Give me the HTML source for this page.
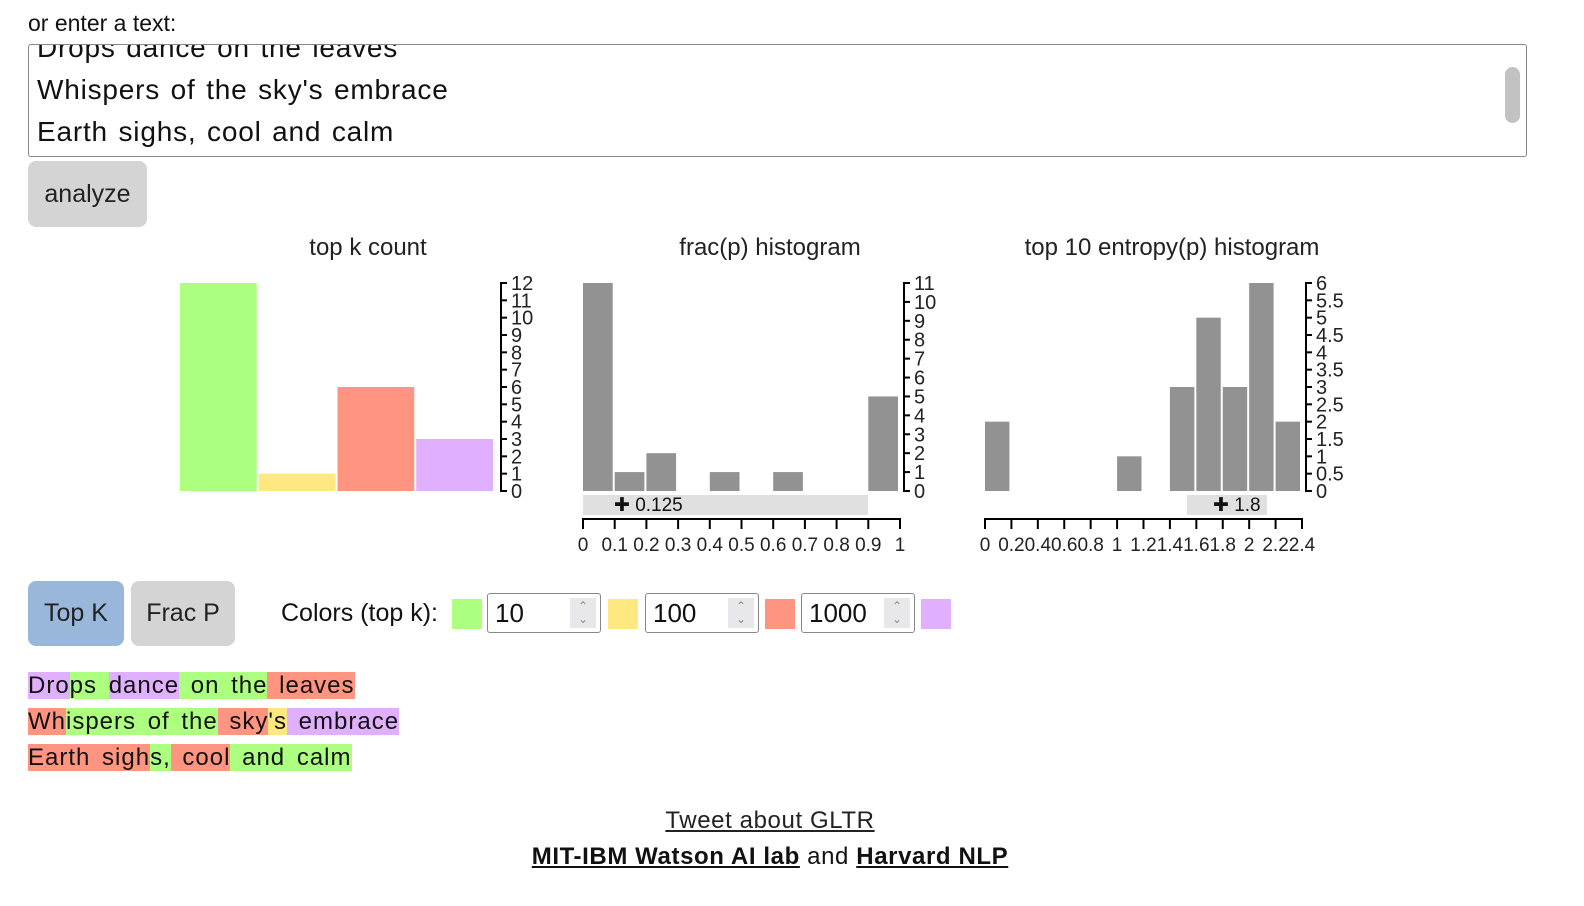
<!DOCTYPE html>
<html><head><meta charset="utf-8"><style>
body{margin:0;width:1584px;height:906px;background:#fff;font-family:"Liberation Sans",sans-serif;color:#111;position:relative;overflow:hidden}
.abs{position:absolute}
.btn{position:absolute;border-radius:8px;font-size:25px;display:flex;align-items:center;justify-content:center;color:#222}
.sw{position:absolute;top:599px;width:30px;height:30px}
.inp{position:absolute;top:593px;height:40px;border:1.5px solid #888;border-radius:3px;font-size:26px;box-sizing:border-box;padding-left:7px;line-height:38px}
.spin{position:absolute;right:4px;top:4px;width:26px;height:30px;background:#e8e8ea;color:#888;font-size:12px;line-height:13px;text-align:center;padding-top:2px;box-sizing:border-box}
.txt{position:absolute;left:28px;font-size:24px;line-height:36px;white-space:pre;letter-spacing:1px;word-spacing:4px}
.g{background:#adff80}.y{background:#ffe87f}.r{background:#ff9580}.p{background:#e0b0ff}
svg text{font-family:"Liberation Sans",sans-serif}
</style></head><body>
<div class="abs" style="left:28px;top:10px;font-size:23px">or enter a text:</div>
<div class="abs" style="left:28px;top:44px;width:1497px;height:111px;border:1.5px solid #888;border-radius:3px;overflow:hidden;font-size:28px;line-height:42px;letter-spacing:0.8px;word-spacing:2px">
 <div style="position:absolute;left:8px;top:-18px;white-space:pre">Drops dance on the leaves
Whispers of the sky's embrace
Earth sighs, cool and calm</div>
 <div style="position:absolute;right:6px;top:22px;width:15px;height:56px;background:#c2c2c2;border-radius:8px"></div>
</div>
<div class="btn" style="left:28px;top:161px;width:119px;height:66px;background:#d4d4d4">analyze</div>

<svg class="abs" style="left:0;top:0" width="1584" height="580">
<text x="368" y="255" font-size="24" text-anchor="middle" fill="#222">top k count</text>
<text x="770" y="255" font-size="24" text-anchor="middle" fill="#222">frac(p) histogram</text>
<text x="1172" y="255" font-size="24" text-anchor="middle" fill="#222">top 10 entropy(p) histogram</text>
<g id="c1"></g><g id="c2"></g><g id="c3"></g>
</svg>

<div class="btn" style="left:28px;top:581px;width:96px;height:65px;background:#99b7db">Top K</div>
<div class="btn" style="left:131px;top:581px;width:104px;height:65px;background:#d4d4d4">Frac P</div>
<div class="abs" style="left:281px;top:599px;font-size:25px">Colors (top k):</div>
<div class="sw g" style="left:452px"></div>
<div class="inp" style="left:487px;width:114px">10<div class="spin">⌃<br>⌄</div></div>
<div class="sw y" style="left:608px"></div>
<div class="inp" style="left:645px;width:114px">100<div class="spin">⌃<br>⌄</div></div>
<div class="sw r" style="left:765px"></div>
<div class="inp" style="left:801px;width:114px">1000<div class="spin">⌃<br>⌄</div></div>
<div class="sw p" style="left:921px"></div>

<div class="txt" style="top:668px"><span class="p">Dro</span><span class="g">ps </span><span class="p">dance</span><span class="g"> on the</span><span class="r"> leaves</span></div>
<div class="txt" style="top:704px"><span class="r">Wh</span><span class="g">ispers of the</span><span class="r"> sky</span><span class="y">'s</span><span class="p"> embrace</span></div>
<div class="txt" style="top:740px"><span class="r">Earth sigh</span><span class="g">s,</span><span class="r"> cool</span><span class="g"> and calm</span></div>

<div class="abs" style="left:0;width:1540px;top:803px;text-align:center;font-size:24px;line-height:36px;letter-spacing:0.6px">
<a style="color:#222;text-decoration:underline">Tweet about GLTR</a><br>
<b><a style="text-decoration:underline">MIT-IBM Watson AI lab</a></b> and <b><a style="text-decoration:underline">Harvard NLP</a></b>
</div>

<script>
const topkCats=['10','100','1000','rest'];
const topkVals=[12,1,6,3];
const topkColors=['#adff80','#ffe87f','#ff9580','#e0b0ff'];
const topkTicks=[0,1,2,3,4,5,6,7,8,9,10,11,12];
const fracVals=[11,1,2,0,1,0,1,0,0,5];
const fracXTicks=['0','0.1','0.2','0.3','0.4','0.5','0.6','0.7','0.8','0.9','1'];
const fracYTicks=[0,1,2,3,4,5,6,7,8,9,10,11];
const entVals=[2,0,0,0,0,1,0,3,5,3,6,2];
const entXTicks=['0','0.2','0.4','0.6','0.8','1','1.2','1.4','1.6','1.8','2','2.2','2.4'];
const entYTicks=[0,0.5,1,1.5,2,2.5,3,3.5,4,4.5,5,5.5,6];
const NS='http://www.w3.org/2000/svg';
function mk(g,t,a,txt){const e=document.createElementNS(NS,t);for(const k in a)e.setAttribute(k,a[k]);if(txt!==undefined)e.textContent=txt;g.appendChild(e);return e;}
const BASE=491,YTOP=283;
function yAxis(g,x,ticks,max){
  const l=mk(g,'path',{d:`M${x+6},${YTOP}H${x}V${BASE}H${x+6}`,stroke:'#000','stroke-width':2,fill:'none'});
  
  
  ticks.forEach(v=>{const y=BASE-(BASE-YTOP)*v/max;
    mk(g,'line',{x1:x,x2:x+6,y1:y,y2:y,stroke:'#000','stroke-width':2});
    const t=mk(g,'text',{x:x+10,y:y+7,'font-size':20,fill:'#222'},String(v));
    
    });
}
function xAxis(g,x0,x1,labels){
  mk(g,'path',{d:`M${x0},527V519H${x1}V527`,stroke:'#000','stroke-width':2,fill:'none'});
  labels.forEach((s,i)=>{const x=x0+(x1-x0)*i/(labels.length-1);
    mk(g,'line',{x1:x,x2:x,y1:519,y2:529,stroke:'#000','stroke-width':2});
    const t=mk(g,'text',{x:x,y:551,'font-size':19,'text-anchor':'middle',fill:'#222'},s);
    
    });
}
const g1=document.getElementById('c1');
const m1=topkTicks[topkTicks.length-1];
topkVals.forEach((v,i)=>{const w=(495-180)/topkVals.length;const h=(BASE-YTOP)*v/m1;
  const r=mk(g1,'rect',{x:180+i*w,y:BASE-h,width:w-2,height:h,fill:topkColors[i]});
  
  });
yAxis(g1,501,topkTicks,m1);
const g2=document.getElementById('c2');
const m2=fracYTicks[fracYTicks.length-1];
const w2=(900-583)/fracVals.length;
fracVals.forEach((v,i)=>{if(!v)return;const h=(BASE-YTOP)*v/m2;
  const r=mk(g2,'rect',{x:583+i*w2,y:BASE-h,width:w2-2,height:h,fill:'#929292'});
  
  });
yAxis(g2,904,fracYTicks,m2);
mk(g2,'rect',{x:583,y:495,width:285,height:20,fill:'#e0e0e0'});
mk(g2,'text',{x:614,y:511,'font-size':19,fill:'#111'},'✚ 0.125');
xAxis(g2,583,900,fracXTicks);
const g3=document.getElementById('c3');
const m3=entYTicks[entYTicks.length-1];
const w3=(1302-985)/entVals.length;
entVals.forEach((v,i)=>{if(!v)return;const h=(BASE-YTOP)*v/m3;
  const r=mk(g3,'rect',{x:985+i*w3,y:BASE-h,width:w3-2,height:h,fill:'#929292'});
  
  });
yAxis(g3,1306,entYTicks,m3);
mk(g3,'rect',{x:1187,y:495,width:80,height:20,fill:'#e0e0e0'});
mk(g3,'text',{x:1213,y:511,'font-size':19,fill:'#111'},'✚ 1.8');
xAxis(g3,985,1302,entXTicks);
</script>
</body></html>
